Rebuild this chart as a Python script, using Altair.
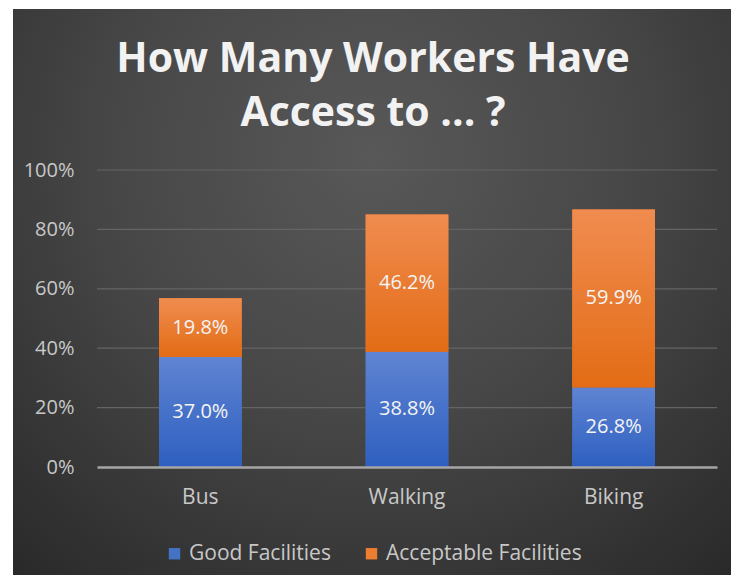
import altair as alt
import pandas as pd

categories = ["Bus", "Walking", "Biking"]
good = [37.0, 38.8, 26.8]
acceptable = [19.8, 46.2, 59.9]
series_names = ["Good Facilities", "Acceptable Facilities"]
y_ticks = [0, 20, 40, 60, 80, 100]
title_lines = ["How Many Workers Have", "Access to ... ?"]

rows = []
for c, g, a in zip(categories, good, acceptable):
    rows.append({"cat": c, "series": series_names[0], "v": g, "y0": 0.0, "y1": g,
                 "mid": g / 2, "label": f"{g:.1f}%"})
    rows.append({"cat": c, "series": series_names[1], "v": a, "y0": g, "y1": g + a,
                 "mid": g + a / 2, "label": f"{a:.1f}%"})
df = pd.DataFrame(rows)

W, H = 620, 297
PAD_L, PAD_T, PAD_R, PAD_B = 89, 162, 14, 108
OX, OY = 8 + PAD_L, 8 + PAD_T  # page position of the plot origin

FONT = "Open Sans"
LBL = "#c8c8c8"

x_enc = alt.X("cat:N", sort=categories, title=None,
              scale=alt.Scale(paddingInner=0.6, paddingOuter=0.3),
              axis=alt.Axis(labelAngle=0, labelColor=LBL, labelFontSize=21,
                            labelFont=FONT, labelPadding=19, ticks=False,
                            domainColor="#a6a6a6", domainWidth=2.5, grid=False,
                            zindex=2))
y_scale = alt.Scale(domain=[0, 100], nice=False)

bg_df = pd.DataFrame({"k": [0]})
background = alt.Chart(bg_df).mark_rect(
    fill=alt.Gradient(gradient="radial",
                      stops=[alt.GradientStop(color="#585858", offset=0),
                             alt.GradientStop(color="#474747", offset=0.45),
                             alt.GradientStop(color="#272727", offset=1)],
                      x1=0.5, y1=0.3, r1=0, x2=0.5, y2=0.3, r2=0.8),
).encode(x=alt.value(13 - OX), x2=alt.value(733 - OX),
         y=alt.value(9 - OY), y2=alt.value(590 - OY))

grid = alt.Chart(pd.DataFrame({"t": y_ticks[1:]})).mark_rule(
    color="#646464", strokeWidth=1.2).encode(
    y=alt.Y("t:Q", scale=y_scale), x=alt.value(0), x2=alt.value(W))

base = alt.Chart(df)

legend_bars = base.mark_bar().encode(
    x=x_enc,
    y=alt.Y("y1:Q", scale=y_scale, title=None,
            axis=alt.Axis(values=y_ticks, labelExpr="datum.value + '%'",
                          labelColor=LBL, labelFontSize=20, labelFont=FONT,
                          labelPadding=23, ticks=False, domain=False,
                          grid=False, zindex=1)),
    y2="y0:Q",
    color=alt.Color("series:N", sort=series_names, title=None,
                    scale=alt.Scale(domain=series_names, range=["#4472c4", "#ed7d31"]),
                    legend=alt.Legend(orient="none", direction="horizontal",
                                      legendX=67, legendY=373,
                                      symbolType="square", symbolSize=130,
                                      symbolStrokeWidth=0, labelColor=LBL,
                                      labelFontSize=21, labelFont=FONT,
                                      labelLimit=400,
                                      labelOffset=4, columnPadding=30, zindex=2)),
)

blue_grad = alt.Gradient(gradient="linear",
                         stops=[alt.GradientStop(color="#5f84d2", offset=0),
                                alt.GradientStop(color="#2e5fc0", offset=1)],
                         x1=0, y1=0, x2=0, y2=1)
orange_grad = alt.Gradient(gradient="linear",
                           stops=[alt.GradientStop(color="#f08c50", offset=0),
                                  alt.GradientStop(color="#e36c15", offset=1)],
                           x1=0, y1=0, x2=0, y2=1)

good_bars = base.transform_filter(alt.datum.series == series_names[0]).mark_bar(
    fill=blue_grad).encode(x=x_enc, y=alt.Y("y1:Q", scale=y_scale), y2="y0:Q")
acc_bars = base.transform_filter(alt.datum.series == series_names[1]).mark_bar(
    fill=orange_grad).encode(x=x_enc, y=alt.Y("y1:Q", scale=y_scale), y2="y0:Q")

labels = base.mark_text(color="#f4f4f4", fontSize=20, font=FONT).encode(
    x=x_enc, y=alt.Y("mid:Q", scale=y_scale), text="label:N")

title_layers = []
title_baselines = [72, 126]
for line, by in zip(title_lines, title_baselines):
    tdf = pd.DataFrame({"txt": [line]})
    title_layers.append(
        alt.Chart(tdf).mark_text(font=FONT, fontSize=41, fontWeight="bold",
                                 color="#f2f2f2", align="center",
                                 baseline="alphabetic").encode(
            x=alt.value(373 - OX), y=alt.value(by - OY), text="txt:N"))

chart = alt.layer(background, grid, legend_bars, good_bars, acc_bars, labels,
                  *title_layers).properties(
    width=W, height=H,
    padding={"left": PAD_L, "top": PAD_T, "right": PAD_R, "bottom": PAD_B},
    autosize=alt.AutoSizeParams(type="none"),
).configure(background="white").configure_view(stroke=None)

chart.save("out.html", embed_options={"renderer": "svg", "actions": False})
